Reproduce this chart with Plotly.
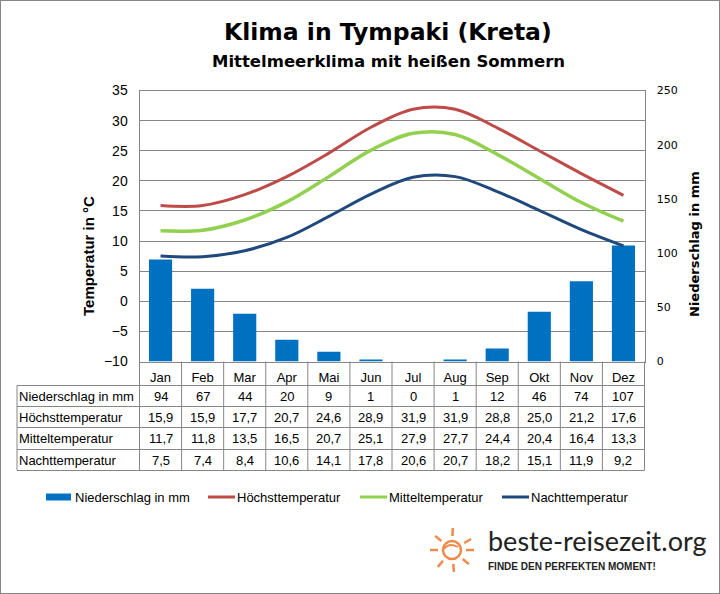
import math
import plotly.graph_objects as go

# Werte aus der Tabelle im Diagramm
monate = ["Jan", "Feb", "Mar", "Apr", "Mai", "Jun", "Jul", "Aug", "Sep", "Okt", "Nov", "Dez"]
niederschlag = [94, 67, 44, 20, 9, 1, 0, 1, 12, 46, 74, 107]
hoechst = [15.9, 15.9, 17.7, 20.7, 24.6, 28.9, 31.9, 31.9, 28.8, 25.0, 21.2, 17.6]
mittel = [11.7, 11.8, 13.5, 16.5, 20.7, 25.1, 27.9, 27.7, 24.4, 20.4, 16.4, 13.3]
nacht = [7.5, 7.4, 8.4, 10.6, 14.1, 17.8, 20.6, 20.7, 18.2, 15.1, 11.9, 9.2]

W, H = 720, 594
FONT = "Liberation Sans"
GRID = "#868686"
ROT, GRUEN, BLAU, BALKEN = "#BE4B48", "#92D050", "#1F497D", "#0070C0"


def xp(px):
    return px / W


def yp(py):
    return 1 - py / H


def de(v):
    return f"{v:.1f}".replace(".", ",")


fig = go.Figure()
# leere Spur, damit die Temperaturachse mit Gitter ganz unten liegt
fig.add_trace(go.Scatter(x=monate, y=[None] * 12, yaxis="y", showlegend=False, hoverinfo="skip"))
fig.add_trace(go.Bar(x=monate, y=niederschlag, name="Niederschlag in mm", yaxis="y2",
                     marker=dict(color=BALKEN, line_width=0), width=0.55))
for name, werte, farbe, breite in [("Höchsttemperatur", hoechst, ROT, 3),
                                   ("Mitteltemperatur", mittel, GRUEN, 3.5),
                                   ("Nachttemperatur", nacht, BLAU, 3)]:
    fig.add_trace(go.Scatter(x=monate, y=werte, name=name, yaxis="y3", mode="lines",
                             line=dict(color=farbe, width=breite, shape="spline", smoothing=1)))

shapes = []
annotations = []


def linie(x0, y0, x1, y1, color=GRID, width=1):
    shapes.append(dict(type="line", xref="paper", yref="paper", x0=xp(x0), y0=yp(y0),
                       x1=xp(x1), y1=yp(y1), line=dict(color=color, width=width)))


def text(x, y, s, size=13, bold=False, anchor="center", color="black", angle=0, family=FONT):
    annotations.append(dict(xref="paper", yref="paper", x=xp(x), y=yp(y), text=f"<b>{s}</b>" if bold else s,
                            showarrow=False, xanchor=anchor, yanchor="middle", textangle=angle,
                            font=dict(family=family, size=size, color=color)))


# Tabelle unter dem Diagramm
L, R, TOP, BOT = 139.5, 644.5, 90.5, 361.5
SPALTE = (R - L) / 12
zeilen_y = [385.5, 406.5, 427.5, 449.5, 470.5]
for y in zeilen_y:
    linie(17, y, R, y)
linie(17, zeilen_y[0], 17, zeilen_y[-1])
for i in range(13):
    linie(L + i * SPALTE, BOT, L + i * SPALTE, zeilen_y[-1])

zeilen = [("Niederschlag in mm", [str(v) for v in niederschlag]),
          ("Höchsttemperatur", [de(v) for v in hoechst]),
          ("Mitteltemperatur", [de(v) for v in mittel]),
          ("Nachttemperatur", [de(v) for v in nacht])]
for r, (titel, werte) in enumerate(zeilen):
    mitte = (zeilen_y[r] + zeilen_y[r + 1]) / 2
    text(17, mitte, titel, anchor="left")
    for i, w in enumerate(werte):
        text(L + (i + 0.5) * SPALTE, mitte, w)

# Titel und Achsentitel
text(388, 32, "Klima in Tympaki (Kreta)", size=23.5, bold=True, family="DejaVu Sans")
text(388, 61, "Mittelmeerklima mit heißen Sommern", size=16.5, bold=True, family="DejaVu Sans")
text(88, 256, "Temperatur in °C", size=15, bold=True, angle=-90)
text(694, 244, "Niederschlag in mm", size=13, bold=True, angle=-90, family="DejaVu Sans")

# Legende von Hand, damit die Abstände stimmen
balken_y = 497
shapes.append(dict(type="rect", xref="paper", yref="paper", x0=xp(46), x1=xp(71), y0=yp(balken_y + 3.5),
                   y1=yp(balken_y - 3.5), fillcolor=BALKEN, line_width=0))
text(73, balken_y, "Niederschlag in mm", anchor="left")
for x0, name, farbe in [(208, "Höchsttemperatur", ROT), (360, "Mitteltemperatur", GRUEN), (502, "Nachttemperatur", BLAU)]:
    linie(x0, balken_y, x0 + 27, balken_y, color=farbe, width=3)
    text(x0 + 27, balken_y, name, anchor="left")

# Logo unten rechts
ORANGE = "#F08A4B"
text(486, 540, "beste-reisezeit.org", size=27, anchor="left", color="#222222", family="Lato")
text(486, 566, "FINDE DEN PERFEKTEN MOMENT!", size=10, bold=True, anchor="left", color="#222222")
cx, cy = 452, 550
shapes.append(dict(type="circle", xref="paper", yref="paper", x0=xp(cx - 9), x1=xp(cx + 9),
                   y0=yp(cy + 9), y1=yp(cy - 9), line=dict(color=ORANGE, width=2.5)))
for winkel in [-88, -30, 0, 40, 85, 130, 180, 220]:
    a = math.radians(winkel)
    linie(cx + 14 * math.cos(a), cy + 14 * math.sin(a), cx + 22 * math.cos(a), cy + 22 * math.sin(a),
          color=ORANGE, width=2.5)
shapes.append(dict(type="path", xref="paper", yref="paper",
                   path=f"M {xp(cx - 8)} {yp(cy - 1)} Q {xp(cx - 3)} {yp(cy - 8)} {xp(cx + 6)} {yp(cy - 3)}",
                   line=dict(color=ORANGE, width=2)))

# Rahmen ums Bild
shapes.append(dict(type="rect", xref="paper", yref="paper", x0=0, x1=1, y0=0, y1=1,
                   line=dict(color="#868686", width=2)))

fig.update_layout(
    width=W, height=H, autosize=False,
    margin=dict(l=0, r=0, t=0, b=0, autoexpand=False),
    paper_bgcolor="white", plot_bgcolor="white",
    font=dict(family=FONT, color="black"),
    showlegend=False,
    xaxis=dict(domain=[xp(L), xp(R)], range=[-0.5, 11.5], type="category", categoryorder="array",
               categoryarray=monate, tickfont=dict(size=13), ticks="outside", ticklen=4,
               tickcolor="rgba(0,0,0,0)", showgrid=False, showline=True, linecolor=GRID, mirror=True, zeroline=False),
    yaxis=dict(domain=[yp(BOT), yp(TOP)], range=[-10, 35], dtick=5, tickfont=dict(size=14), side="left",
               showgrid=True, gridcolor=GRID, gridwidth=1, showline=True, linecolor=GRID, mirror=True,
               zeroline=False, ticks="outside", ticklen=8, tickcolor="rgba(0,0,0,0)"),
    yaxis2=dict(overlaying="y", side="right", range=[0, 250], dtick=50, tickfont=dict(size=11, family="DejaVu Sans"),
                showgrid=False, zeroline=False, ticks="outside", ticklen=9, tickcolor="rgba(0,0,0,0)"),
    yaxis3=dict(overlaying="y", side="left", range=[-10, 35], visible=False),
    shapes=shapes,
    annotations=annotations,
)

fig.write_html("out.html", config={"displayModeBar": False}, post_script="document.body.style.margin='0';")
